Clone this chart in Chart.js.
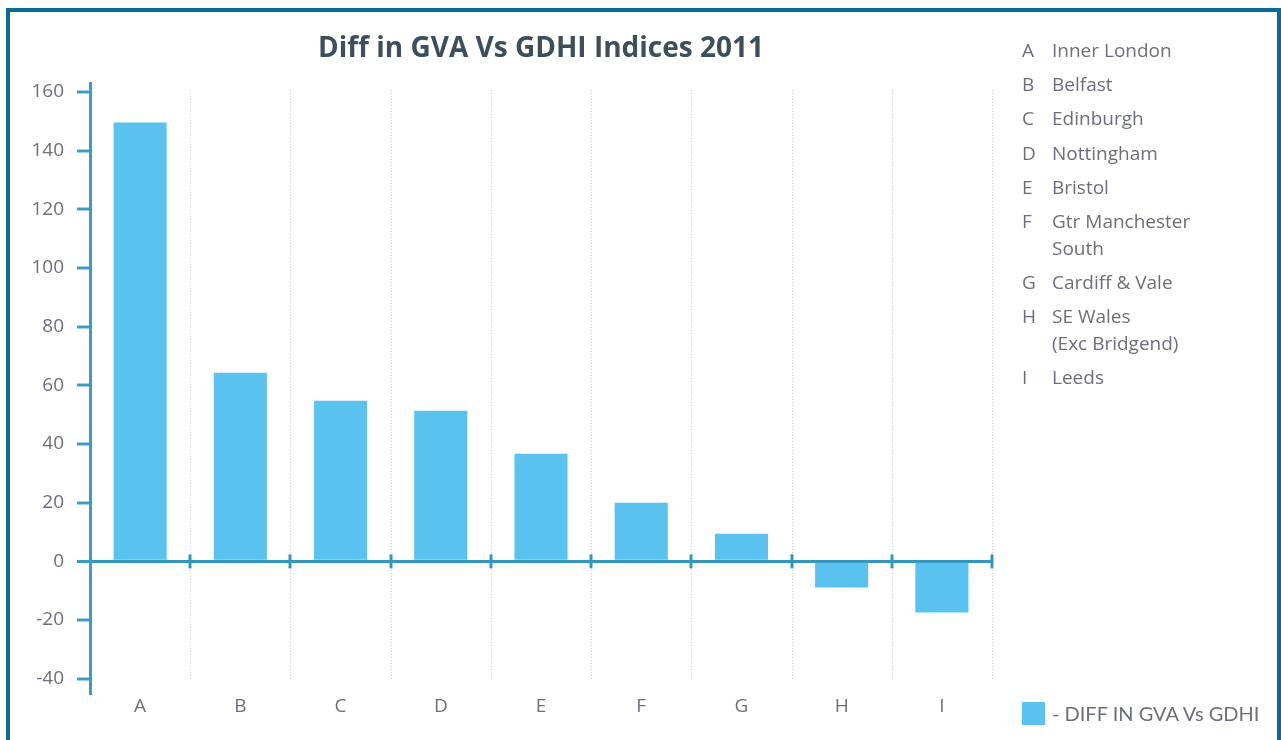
<!DOCTYPE html>
<html>
<head>
<meta charset="utf-8">
<script src="https://cdn.jsdelivr.net/npm/chart.js@4.4.1/dist/chart.umd.min.js"></script>
<style>
  html, body { margin: 0; padding: 0; background: #ffffff; }
  body { width: 1281px; height: 740px; position: relative; overflow: hidden; font-family: "Open Sans", Lato, sans-serif; }
  #frame { position: absolute; left: 6px; top: 8px; width: 1275px; height: 800px; box-sizing: border-box;
           border-left: 4px solid #0d6a94; border-top: 4px solid #0d6a94; border-right: 4px solid #0d6a94; }
  #wrap { position: absolute; left: 0; top: 0; width: 1281px; height: 740px; }
  #key { position: absolute; left: 1022px; top: 36.75px; color: #6d6e7d; font-size: 19px; line-height: 26.5px; }
  .row { display: flex; margin-bottom: 7.75px; }
  .row .let { width: 30px; }
  #series { position: absolute; left: 1022px; top: 701px; display: flex; align-items: center; color: #6d6e7d; font-family: Lato, sans-serif; font-size: 20px; }
  #series .box { width: 23px; height: 23px; background: #5ac2ef; margin-right: 7px; }
</style>
</head>
<body>
<div id="frame"></div>
<div id="wrap"><canvas id="c" width="1281" height="740"></canvas></div>
<div id="key"></div>
<div id="series"><div class="box"></div><span id="seriesText"></span></div>
<script>
const chartTitle = 'Diff in GVA Vs GDHI Indices 2011';
const categories = ['A', 'B', 'C', 'D', 'E', 'F', 'G', 'H', 'I'];
const regionNames = [
  ['Inner London'], ['Belfast'], ['Edinburgh'], ['Nottingham'], ['Bristol'],
  ['Gtr Manchester', 'South'], ['Cardiff & Vale'], ['SE Wales', '(Exc Bridgend)'], ['Leeds']
];
const seriesLabel = '- DIFF IN GVA Vs GDHI';
const diffValues = [149.5, 64.3, 54.7, 51.3, 36.7, 20.0, 9.4, -8.9, -17.4];
const yTickValues = [-40, -20, 0, 20, 40, 60, 80, 100, 120, 140, 160];

// HTML key of category letters
const key = document.getElementById('key');
categories.forEach((c, i) => {
  const row = document.createElement('div');
  row.className = 'row';
  const l = document.createElement('div'); l.className = 'let'; l.textContent = c;
  const n = document.createElement('div');
  regionNames[i].forEach(line => {
    const d = document.createElement('div'); d.textContent = line; n.appendChild(d);
  });
  row.appendChild(l); row.appendChild(n);
  key.appendChild(row);
});
document.getElementById('seriesText').textContent = seriesLabel;

const AXIS = '#3a9dc3';
const ZERO = '#3596bb';
const TEXT = '#6d6e7d';

const decor = {
  id: 'decor',
  beforeDatasetsDraw(chart) {
    const x = chart.scales.x, y = chart.scales.y, ctx = chart.ctx;
    const top = y.getPixelForValue(Math.max(...yTickValues)) - 2;
    const bottom = y.getPixelForValue(Math.min(...yTickValues)) + 1;
    ctx.save();
    ctx.strokeStyle = '#c4c4c4';
    ctx.lineWidth = 1;
    ctx.setLineDash([1, 2]);
    for (let i = 1; i <= categories.length; i++) {
      const px = Math.round(x.getPixelForValue(i - 0.5)) + 0.5;
      ctx.beginPath(); ctx.moveTo(px, top); ctx.lineTo(px, bottom); ctx.stroke();
    }
    ctx.restore();
  },
  afterDraw(chart) {
    const x = chart.scales.x, y = chart.scales.y, ctx = chart.ctx;
    const y0 = y.getPixelForValue(0);
    ctx.save();
    ctx.strokeStyle = ZERO;
    ctx.lineWidth = 3;
    for (let i = 1; i <= categories.length; i++) {
      const px = Math.round(x.getPixelForValue(i - 0.5));
      ctx.beginPath(); ctx.moveTo(px, y0 - 7); ctx.lineTo(px, y0 + 7); ctx.stroke();
    }
    ctx.restore();
  }
};

new Chart(document.getElementById('c'), {
  type: 'bar',
  data: {
    labels: categories,
    datasets: [{
      label: seriesLabel,
      data: diffValues,
      backgroundColor: '#5ac2ef',
      borderWidth: 0,
      barPercentage: 0.53,
      categoryPercentage: 1
    }]
  },
  options: {
    responsive: false,
    animation: false,
    devicePixelRatio: 1,
    layout: { padding: { left: 0, right: 289, top: 0, bottom: 22 } },
    plugins: {
      legend: { display: false },
      tooltip: { enabled: false },
      title: {
        display: true,
        text: chartTitle,
        fullSize: false,
        color: '#3e4f5c',
        font: { family: 'Open Sans', size: 28, weight: 'bold', lineHeight: 1.2 },
        padding: { top: 32.7, bottom: 16.7 }
      }
    },
    scales: {
      x: {
        grid: { display: false, drawTicks: false },
        border: { display: false },
        ticks: { color: TEXT, padding: 0, font: { family: 'Open Sans', size: 19, lineHeight: 1.2 } }
      },
      y: {
        min: -45.6,
        max: 163.0,
        z: 1,
        afterFit(scale) { scale.width = 90; },
        afterBuildTicks(scale) { scale.ticks = yTickValues.map(v => ({ value: v })); },
        border: { display: true, color: AXIS, width: 3 },
        grid: {
          drawOnChartArea: true,
          color: ctx => (ctx.tick && ctx.tick.value === 0) ? ZERO : 'rgba(0,0,0,0)',
          lineWidth: ctx => (ctx.tick && ctx.tick.value === 0) ? 3 : 0,
          tickColor: AXIS,
          tickWidth: 3,
          tickLength: 13
        },
        ticks: { color: TEXT, padding: 13, font: { family: 'Open Sans', size: 19, lineHeight: 1.2 } }
      }
    }
  },
  plugins: [decor]
});
</script>
</body>
</html>
